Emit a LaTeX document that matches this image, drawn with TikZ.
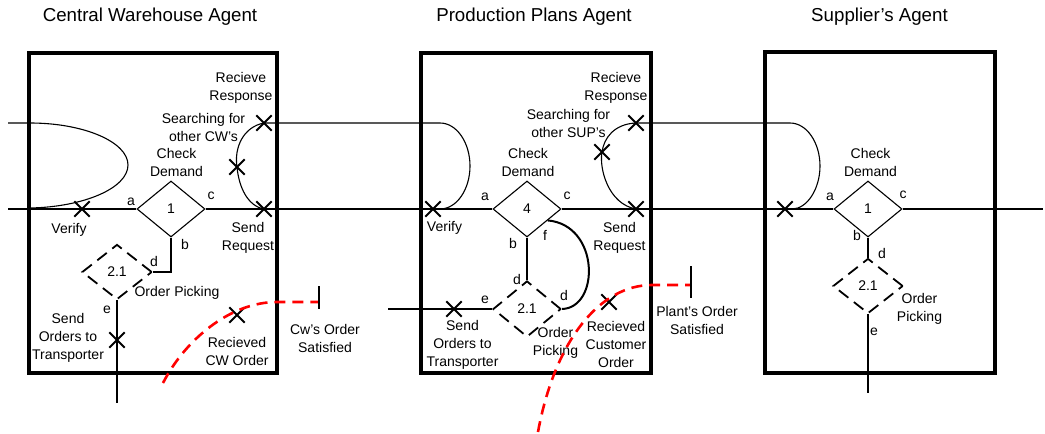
\documentclass[tikz,border=0pt]{standalone}
\usepackage{fontspec}
\setmainfont{Liberation Sans}
\usetikzlibrary{shapes.geometric,shapes.misc,positioning,calc}

\begin{document}
\begin{tikzpicture}[
    x=1pt, y=-1pt,
    font=\fontsize{14}{18}\selectfont,
    line width=1.1pt,
    agent/.style={rectangle, draw=black, line width=4pt, inner sep=0pt, minimum height=320.5pt},
    title/.style={font=\fontsize{18.7}{22}\selectfont, inner sep=0pt},
    task/.style={diamond, draw=black, line width=1.1pt, inner sep=0pt, minimum width=68pt, minimum height=56pt},
    subtask/.style={task, line width=1.8pt, dash pattern=on 12pt off 7pt},
    event/.style={cross out, draw=black, line width=1.8pt, inner sep=0pt, minimum size=13.5pt},
    lbl/.style={align=center, inner sep=0pt},
    port/.style={inner sep=0pt},
    goal/.style={draw=red, line width=2.6pt, dash pattern=on 11pt off 7pt},
]
\useasboundingbox (0,0) rectangle (1045,434);

% --- AGENTS ---
\node[agent, minimum width=248.5pt] (cw) at (152.75,212.75) {};
\node[agent, minimum width=229.5pt] (pp) at (535.75,212.75) {};
\node[agent, minimum width=230pt] (sup) at (880,212.5) {};

\node[title] (cw_title) at (150,17) {Central Warehouse Agent};
\node[title] (pp_title) at (534,17) {Production Plans Agent};
\node[title] (sup_title) at (879.5,17) {Supplier’s Agent};

% --- TASKS ---
\node[task] (cd1) at (171,209) {1};
\node[task] (cd4) at (527,209) {4};
\node[task] (cd3) at (868,209) {1};
\node[subtask, minimum width=70pt, minimum height=55pt] (pk1) at (117,272) {2.1};
\node[subtask] (pk2) at (527,309) {2.1};
\node[subtask, minimum width=70pt, minimum height=55pt] (pk3) at (868,286) {2.1};

% --- EVENTS ---
\node[event] (vf1) at (82,209) {};
\node[event] (rr1) at (264,123) {};
\node[event] (sc1) at (237,167) {};
\node[event] (sr1) at (264,209) {};
\node[event] (so1) at (117,340) {};
\node[event] (rc1) at (237,315) {};
\node[event] (vf2) at (433,209) {};
\node[event] (rr2) at (636,123) {};
\node[event] (sc2) at (602,152) {};
\node[event] (sr2) at (636,209) {};
\node[event] (so2) at (454,309) {};
\node[event] (rc2) at (609,302) {};
\node[event] (vf3) at (785,209) {};

% --- LABELS: Central Warehouse ---
\node[lbl] (cd1_l) at (176.5,162.5) {Check\\Demand};
\node[lbl] (rr1_l) at (241,87.5) {Recieve\\Response};
\node[lbl] (sc1_l) at (203.5,127.5) {Searching for\\other CW’s};
\node[lbl] (sr1_l) at (248,237.5) {Send\\Request};
\node[lbl] (vf1_l) at (69,230) {Verify};
\node[lbl] (pk1_l) at (177,293) {Order Picking};
\node[lbl] (so1_l) at (68,337.5) {Send\\Orders to\\Transporter};
\node[lbl] (rc1_l) at (237,351.5) {Recieved\\CW Order};
\node[port] (a1) at (131,202) {a};
\node[port] (c1) at (211,196) {c};
\node[port] (b1) at (185,244) {b};
\node[port] (d1) at (154,261) {d};
\node[port] (e1) at (107,310) {e};

% --- LABELS: Production Plans ---
\node[lbl] (cd4_l) at (528,162) {Check\\Demand};
\node[lbl] (rr2_l) at (616,87.5) {Recieve\\Response};
\node[lbl] (sc2_l) at (568.5,123) {Searching for\\other SUP’s};
\node[lbl] (sr2_l) at (619.5,237.5) {Send\\Request};
\node[lbl] (vf2_l) at (444.5,228) {Verify};
\node[lbl] (so2_l) at (462.5,344.5) {Send\\Orders to\\Transporter};
\node[lbl] (pk2_l) at (555.5,342.5) {Order\\Picking};
\node[lbl] (rc2_l) at (616,344.5) {Recieved\\Customer\\Order};
\node[port] (a4) at (485,197) {a};
\node[port] (c4) at (567,196) {c};
\node[port] (b4) at (513,243) {b};
\node[port] (f4) at (545,235) {f};
\node[port] (d4) at (517,279) {d};
\node[port] (d5) at (564,295) {d};
\node[port] (e4) at (485,300) {e};

% --- LABELS: Supplier ---
\node[lbl] (cd3_l) at (870.5,162.5) {Check\\Demand};
\node[lbl] (pk3_l) at (919.5,309) {Order\\Picking};
\node[port] (a3) at (830,197) {a};
\node[port] (c3) at (903,195) {c};
\node[port] (b3) at (857,235) {b};
\node[port] (d3) at (882,253) {d};
\node[port] (e3) at (874,332) {e};

% Free ends
\coordinate (in_low) at (8,209);
\coordinate (out_low) at (1043,209);
\coordinate (in_up) at (8,123);
\coordinate (out_so1) at (117,403);
\coordinate (in_so2) at (388,309);
\coordinate (out_pk3) at (868,393);

% Lines
\draw (in_low) -- (vf1.center) -- (cd1.west);
\draw (cd1.east) -- (sr1.center) -- (vf2.center) -- (cd4.west);
\draw (cd4.east) -- (sr2.center) -- (vf3.center) -- (cd3.west);
\draw (cd3.east) -- (out_low);

\draw (in_up) -- (30,123) .. controls (84,123) and (128,142) .. (128,165) .. controls (128,188) and (84,207) .. (30,208);
\draw (rr1.center) .. controls (243,127) and (234,148) .. (sc1.center) .. controls (239,188) and (248,206) .. (sr1.center);
\draw (rr1.center) -- (440,123) .. controls (457,123) and (470,143) .. (470,166) .. controls (470,189) and (457,209) .. (440,209);
\draw (rr2.center) .. controls (614,124) and (604,138) .. (sc2.center) .. controls (599,168) and (608,204) .. (sr2.center);
\draw (rr2.center) -- (790,123) .. controls (807,123) and (820,143) .. (820,166) .. controls (820,189) and (807,209) .. (792,209);

\draw (cd1.south) |- (pk1.east);
\draw (pk1.south) -- (so1.center) -- (out_so1);

\draw[line width=2pt] (cd4.south) -- (pk2.north);
\draw[line width=2pt] ($(cd4.east)!0.4!(cd4.south)$) .. controls (600,225) and (600,308) .. (pk2.east);
\draw (pk2.west) -- (so2.center) -- (in_so2);

\draw (cd3.south) -- (pk3.north);
\draw (pk3.south) -- (out_pk3);

% Satisfied goals
\coordinate (gs1) at (163,383);
\coordinate (tk1) at (319,302);
\coordinate (gs2) at (538,432);
\coordinate (tk2) at (691,285);
\draw[goal] (gs1) .. controls (185,340) and (230,302) .. (277,302) -- (tk1);
\draw[goal] (gs2) .. controls (555,340) and (600,285) .. (652,285) -- (tk2);
\draw ($(tk1)+(0,-16)$) -- ($(tk1)+(0,7)$);
\draw ($(tk2)+(0,-19)$) -- ($(tk2)+(0,13)$);
\node[lbl] (gs1_l) at (325,338) {Cw’s Order\\Satisfied};
\node[lbl] (gs2_l) at (697,320) {Plant’s Order\\Satisfied};

\end{tikzpicture}
\end{document}
